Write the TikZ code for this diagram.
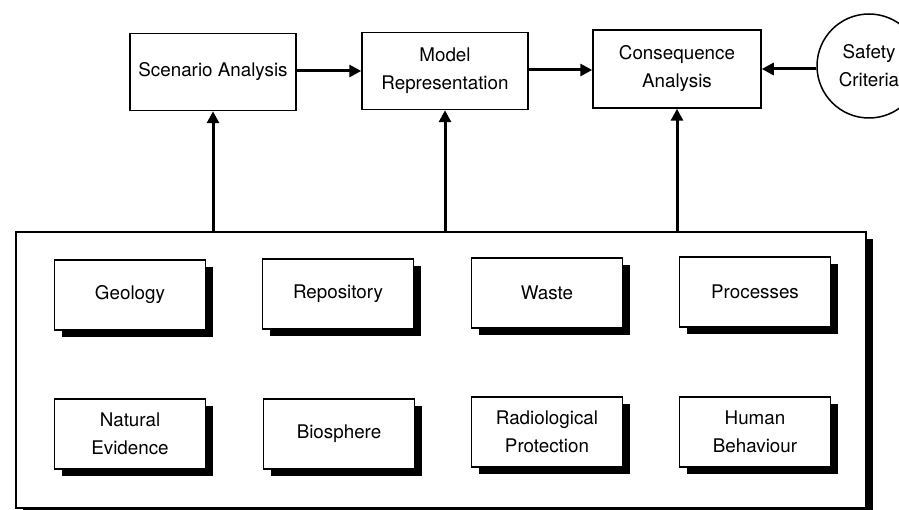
\documentclass[tikz,border=0pt]{standalone}
\usepackage{fontspec}
\setmainfont{TeX Gyre Heros}
\usetikzlibrary{arrows.meta,shadows}
\begin{document}
\begin{tikzpicture}[x=1pt,y=-1pt,
  font=\fontsize{18.8}{28}\selectfont,
  topbox/.style={draw, line width=1.5pt, fill=white, minimum width=166pt, minimum height=77pt, align=center, inner sep=2pt},
  shbox/.style={draw, line width=1.3pt, fill=white, minimum width=151pt, minimum height=70pt, align=center, inner sep=2pt,
     general shadow={fill=black, shadow xshift=7pt, shadow yshift=-7pt}},
  arr/.style={line width=3pt, -{Triangle[length=12pt,width=12pt]}}]
\useasboundingbox (0,0) rectangle (899,510);
% big environment box
\node[draw, line width=1.5pt, fill=white, minimum width=850pt, minimum height=276pt, inner sep=0pt,
      general shadow={fill=black, shadow xshift=7pt, shadow yshift=-7pt}] (env) at (441,370) {};
% top row
\node[topbox] (sa) at (213,72) {Scenario Analysis};
\node[topbox] (mr) at (445,71) {Model\\Representation};
\node[topbox, minimum width=168pt, minimum height=78pt] (ca) at (677,69) {Consequence\\Analysis};
\node[draw, circle, line width=1.5pt, minimum size=104pt, inner sep=0pt, align=center] (sc) at (869,66) {Safety\\Criteria};
% inner boxes
\node[shbox] (geo) at (130,295) {Geology};
\node[shbox] (rep) at (338,294) {Repository};
\node[shbox] (was) at (547,293) {Waste};
\node[shbox] (pro) at (755,292) {Processes};
\node[shbox] (nat) at (130,434) {Natural\\Evidence};
\node[shbox] (bio) at (339,434) {Biosphere};
\node[shbox] (rad) at (547,432) {Radiological\\Protection};
\node[shbox] (hum) at (755,432) {Human\\Behaviour};
% arrows
\draw[arr] (sa.east |- 0,71) -- (mr.west |- 0,71);
\draw[arr] (mr.east |- 0,70) -- (ca.west |- 0,70);
\draw[arr] (sc.west |- 0,69) -- (ca.east |- 0,69);
\draw[arr] (sa.south |- env.north) -- (sa.south);
\draw[arr] (mr.south |- env.north) -- (mr.south);
\draw[arr] (ca.south |- env.north) -- (ca.south);
\end{tikzpicture}
\end{document}
